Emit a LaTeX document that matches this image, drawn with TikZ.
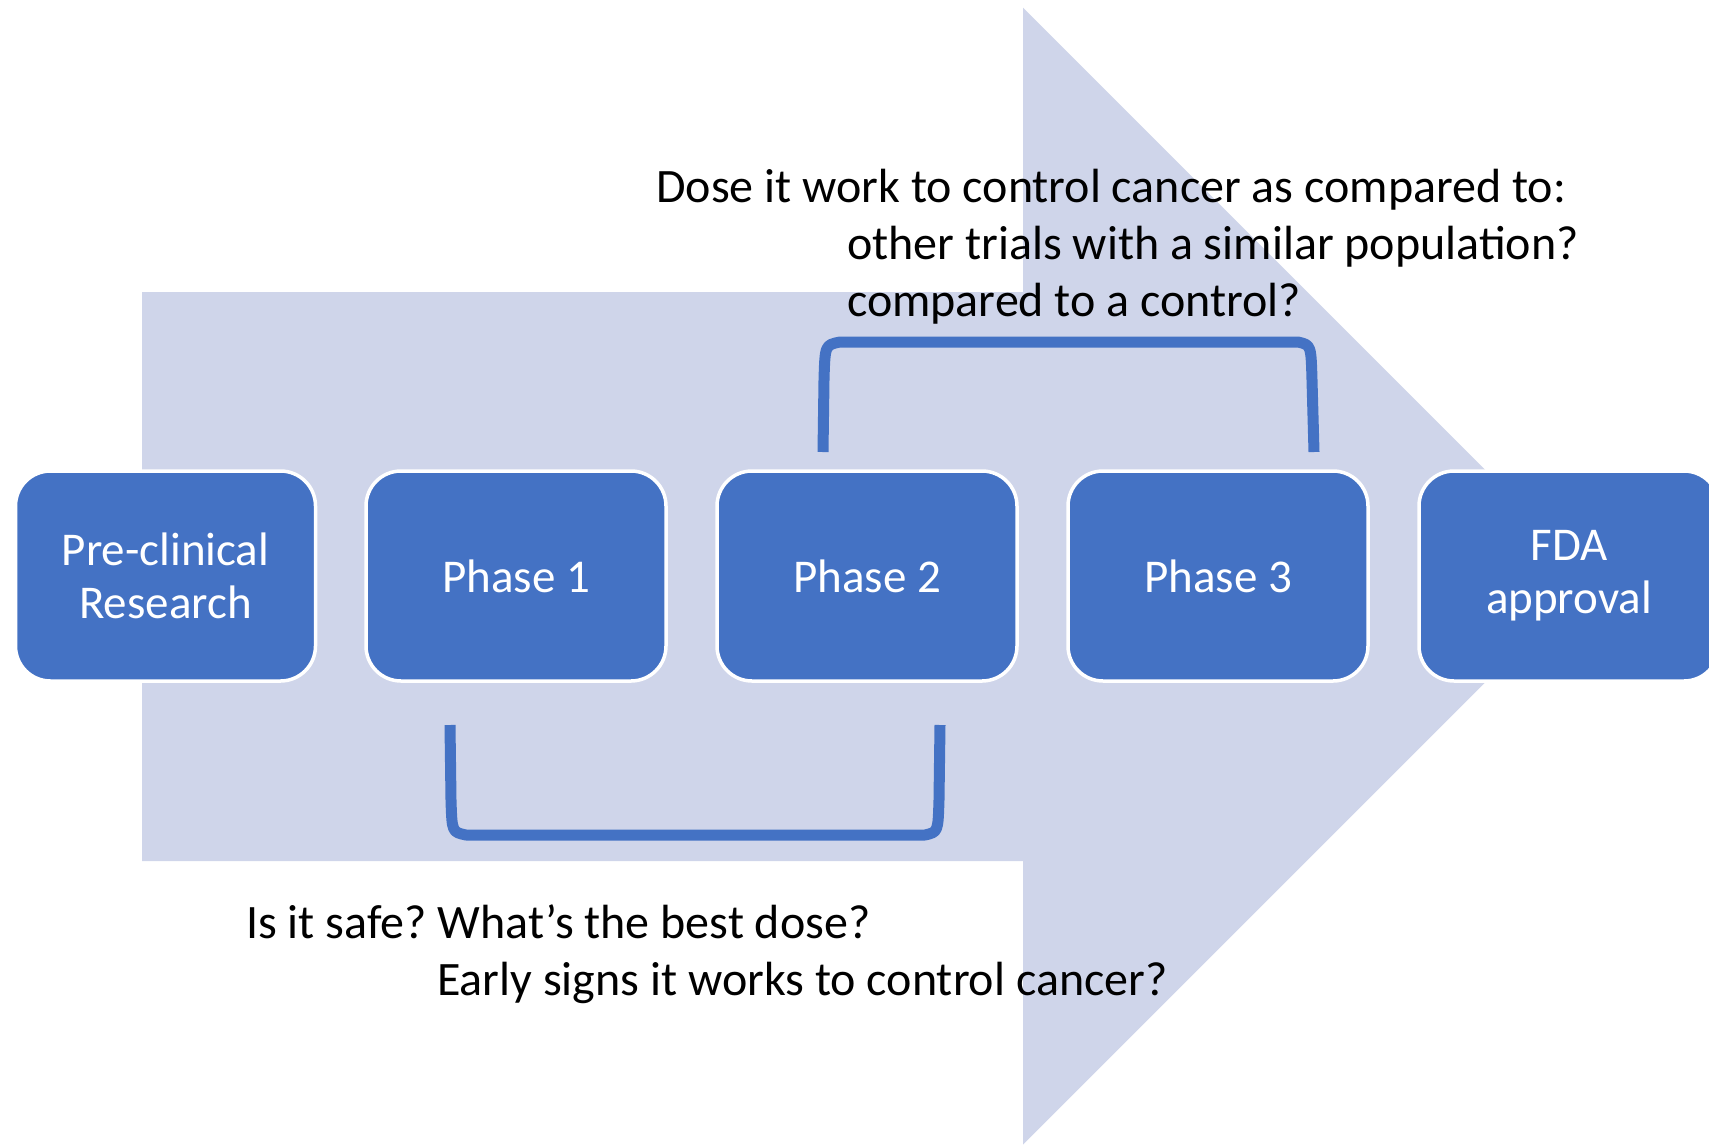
\documentclass[tikz,border=0pt]{standalone}
\usepackage{fontspec}
\setmainfont{Carlito}
\usepackage{tikz}
\usetikzlibrary{positioning}

\definecolor{stageblue}{HTML}{4472C4}
\definecolor{arrowblue}{HTML}{CFD5EA}
\frenchspacing

\begin{document}
\begin{tikzpicture}[x=1pt,y=-1pt,
    stage/.style={draw=white,line width=3.5pt,fill=stageblue,rounded corners=35pt,
      minimum width=300pt,minimum height=210pt,text=white,align=center,
      font=\fontsize{47}{53}\selectfont},
    note/.style={anchor=base west,inner sep=0pt,align=left,
      font=\fontsize{48}{57}\selectfont},
    brace/.style={draw=stageblue,line width=11pt,line join=round}]

    \useasboundingbox (0,0) rectangle (1709,1144);

    % big arrow behind
    \fill[arrowblue] (142,292) -- (1023,292) -- (1023,7.6) -- (1591.5,576)
      -- (1023,1144.5) -- (1023,861) -- (142,861) -- cycle;

    \node[stage]         (pre) at (165.5, 576)        {Pre-clinical\\Research};
    \node[stage]         (p1) at (516, 576)           {Phase 1};
    \node[stage]         (p2) at (867, 576)           {Phase 2};
    \node[stage]         (p3) at (1218, 576)          {Phase 3};
    \node[stage]         (fda) at (1569, 576)         {FDA\\approval};

    \coordinate (t1) at (823, 452);
    \coordinate (t2) at (1314, 452);
    \coordinate (b1) at (450, 725);
    \coordinate (b2) at (940, 725);

    \draw[brace] (t1) -- (824,380) .. controls (825,345) .. (840,342) -- (1298,342)
      .. controls (1311,345) .. (1312,380) -- (t2);
    \draw[brace] (b1) -- (451,800) .. controls (452,832) .. (466,835) -- (925,835)
      .. controls (938,832) .. (939,800) -- (b2);

    % the base anchor sits on the last line
    \node[note] (q23) at (656, 316.7) {Dose it work to control cancer as compared to:\\
      \hspace*{191pt}other trials with a similar population?\\
      \hspace*{191pt}compared to a control?};
    \node[note] (q12) at (246, 995) {Is it safe? What’s the best dose?\\
      \hspace*{191pt}Early signs it works to control cancer?};
  \end{tikzpicture}
\end{document}
